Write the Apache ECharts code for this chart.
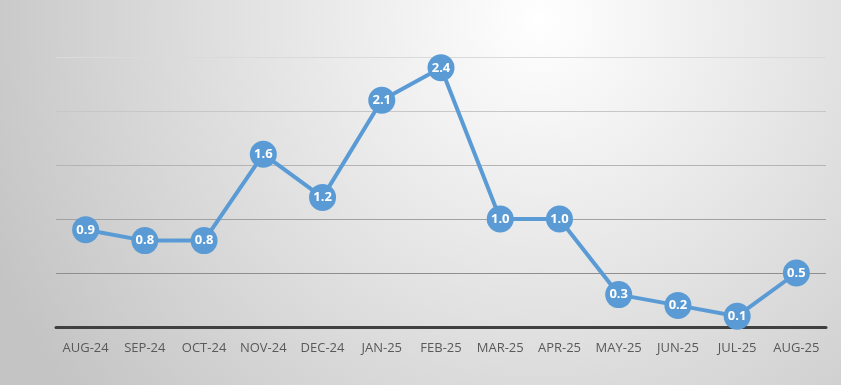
<!DOCTYPE html>
<html><head><meta charset="utf-8">
<script src="https://cdn.jsdelivr.net/npm/echarts@6/dist/echarts.min.js"></script>
<style>html,body{margin:0;padding:0;}#c{width:841px;height:385px;}</style>
</head><body><div id="c"></div>
<script>
const categories = ['AUG-24','SEP-24','OCT-24','NOV-24','DEC-24','JAN-25','FEB-25','MAR-25','APR-25','MAY-25','JUN-25','JUL-25','AUG-25'];
const values = [0.9, 0.8, 0.8, 1.6, 1.2, 2.1, 2.4, 1.0, 1.0, 0.3, 0.2, 0.1, 0.5];
const chart = echarts.init(document.getElementById('c'));
chart.setOption({
  animation: false,
  backgroundColor: {type:'radial', x:540, y:20, r:600, global:true,
    colorStops:[{offset:0,color:'#ffffff'},{offset:1,color:'#c4c4c4'}]},
  grid: {left:56, right:15, top:57, bottom:58},
  xAxis: {
    type:'category', data: categories, boundaryGap:true,
    axisLine:{lineStyle:{color:'#404040', width:3}},
    axisTick:{show:false},
    axisLabel:{interval:0, color:'#595959', fontSize:13, fontFamily:'Open Sans', margin:15}
  },
  yAxis: {
    type:'value', min:0, max:2.5, interval:0.5,
    axisLabel:{show:false}, axisLine:{show:false}, axisTick:{show:false},
    splitLine:{lineStyle:{width:1, color:{type:'linear', x:0, y:57, x2:0, y2:273, global:true,
      colorStops:[{offset:0,color:'#dadada'},{offset:1,color:'#8e8e8e'}]}}}
  },
  series: [{
    type:'line', data: values,
    symbol:'circle', symbolSize:27,
    lineStyle:{color:'#5b9bd5', width:4},
    itemStyle:{color:'#5b9bd5'},
    label:{show:true, position:'inside', color:'#ffffff', fontWeight:'bold', fontSize:13, fontFamily:'Open Sans',
      formatter: p => p.value.toFixed(1)}
  }]
});
</script></body></html>
